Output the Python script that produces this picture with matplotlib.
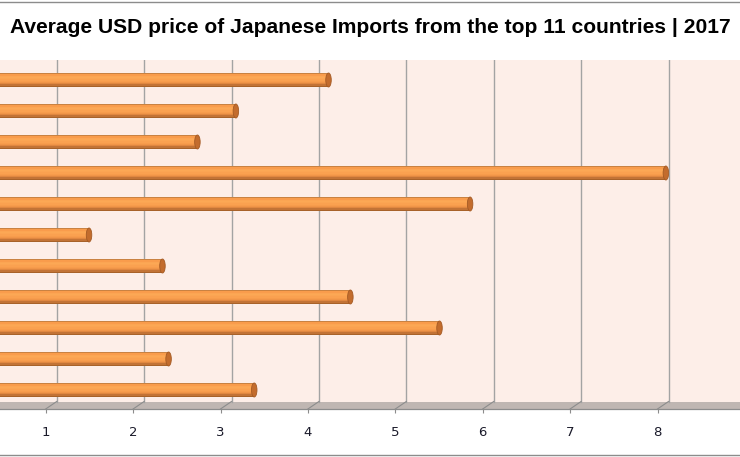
import matplotlib
matplotlib.use("Agg")
import matplotlib.pyplot as plt
from matplotlib.patches import Ellipse
from matplotlib.lines import Line2D
import numpy as np

# ---- data (top to bottom as shown) ----
categories = ["Country 1", "Country 2", "Country 3", "Country 4", "Country 5", "Country 6",
              "Country 7", "Country 8", "Country 9", "Country 10", "Country 11"]
values = [4.11, 3.05, 2.61, 7.97, 5.73, 1.37, 2.21, 4.36, 5.38, 2.28, 3.26]
tick_values = [1, 2, 3, 4, 5, 6, 7, 8]
tick_labels = ["1", "2", "3", "4", "5", "6", "7", "8"]
title = "Average USD price of Japanese Imports from the top 11 countries | 2017"

W, H = 740, 457
fig = plt.figure(figsize=(W / 100, H / 100), dpi=100)
fig.patch.set_facecolor("white")

ax_top_px, ax_bot_px = 60, 409
ax = fig.add_axes([0, 1 - ax_bot_px / H, 1, (ax_bot_px - ax_top_px) / H])

px_per_unit_x = 87.4
zero_px = -30.7
xmin = (0 - zero_px) / px_per_unit_x
xmax = (W - zero_px) / px_per_unit_x
row_px = 31.0
ymin = -0.613
ymax = ymin + (ax_bot_px - ax_top_px) / row_px
ax.set_xlim(xmin, xmax)
ax.set_ylim(ymin, ymax)
ax.set_facecolor("#FDEEE8")

floor_back = ymin + 7.5 / row_px
depth_dx = 11 / px_per_unit_x

ax.axhspan(ymin, floor_back, color="#BFB6B2", zorder=1, lw=0)

for t in tick_values:
    ax.plot([t, t], [floor_back, ymax], color="#A3A3A3", lw=1.0, zorder=2)
    ax.plot([t, t - depth_dx], [floor_back, ymin], color="#8C8C8C", lw=0.8, zorder=2)

n = len(values)
ypos = np.arange(n)[::-1]
bar_h = 14 / row_px
grad = ["#C98242", "#F99C4C", "#FBA553", "#FCA855", "#FBA553", "#FAA150",
        "#F79C4C", "#F09548", "#E08740", "#C27336", "#A86229"]
ns = len(grad)
for v, y in zip(values, ypos):
    for k, c in enumerate(grad):
        yc = y + bar_h / 2 - (k + 0.5) * bar_h / ns
        ax.barh(yc, v, height=bar_h / ns + 0.002, left=0, color=c, lw=0, zorder=3)
    cap = Ellipse((v, y), width=5.5 / px_per_unit_x, height=bar_h,
                  facecolor="#C36C2D", edgecolor="#A45A24", lw=0.6, zorder=4)
    ax.add_patch(cap)

for s in ["top", "left", "right"]:
    ax.spines[s].set_visible(False)
ax.spines["bottom"].set_color("#8C8C8C")
ax.spines["bottom"].set_linewidth(0.9)
ax.set_yticks([])
ax.set_xticks([t - depth_dx for t in tick_values])
ax.set_xticklabels(tick_labels, fontsize=9.5, color="#1A1A2A")
ax.tick_params(axis="x", direction="out", length=3, width=0.8, color="#8C8C8C", pad=9)

# title, sized to span ~722 px like the reference
ttl = fig.text(0.5, 1 - 33 / H, title, ha="center", va="baseline", fontsize=14,
               fontweight="bold", family=["Liberation Sans", "DejaVu Sans"], color="#000000")
fig.canvas.draw()
wpx = ttl.get_window_extent().width
ttl.set_fontsize(14 * 720 / wpx)

fig.add_artist(Line2D([0, 1], [1 - 1.5 / H, 1 - 1.5 / H], color="#8C8C8C", lw=1.0))
fig.add_artist(Line2D([0, 1], [1 - 455 / H, 1 - 455 / H], color="#8C8C8C", lw=1.0))

fig.savefig("out.png", dpi=100)
